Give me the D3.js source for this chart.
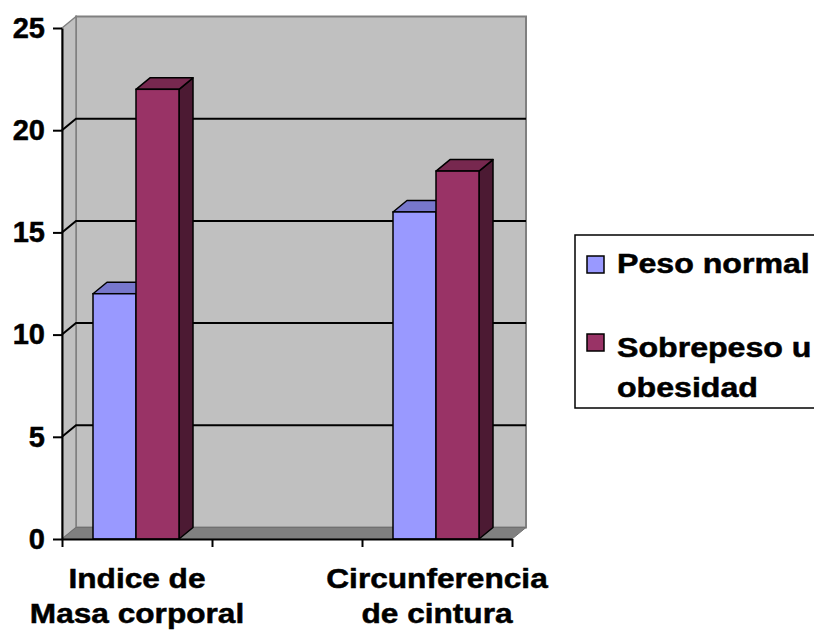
<!DOCTYPE html>
<html>
<head>
<meta charset="utf-8">
<script src="https://cdn.jsdelivr.net/npm/d3@7"></script>
<style>
  html, body { margin: 0; padding: 0; background: #ffffff; }
  svg { display: block; }
  text { font-family: "Liberation Sans", Arial, sans-serif; font-weight: bold; fill: #000; stroke: #000; stroke-width: 0.5px; }
</style>
</head>
<body>
<svg id="chart" width="814" height="634"></svg>
<script>
// Categories (the middle slot is an empty category in the original workbook)
const categories = ["Indice de Masa corporal", "", "Circunferencia de cintura"];
const categoryLines = [["Indice de", "Masa corporal"], [], ["Circunferencia", "de cintura"]];
const seriesNames = ["Peso normal", "Sobrepeso u obesidad"];
const pesoNormal = [12, null, 16];
const sobrepeso = [22, null, 18];
const yTicks = [0, 5, 10, 15, 20, 25];

const seriesColors = [
  { front: "#9999FF", top: "#7777CC", side: "#4D4D80" },
  { front: "#993366", top: "#77284F", side: "#4C1A33" }
];
const seriesValues = [pesoNormal, sobrepeso];

const svg = d3.select("#chart");

// 3D depth offset of the walls and columns
const DX = 14, DY = 11.5;

const y = d3.scaleLinear().domain([0, 25]).range([539, 28]);
const x = d3.scaleBand().domain(d3.range(categories.length)).range([62, 512]);
const xEdge = d3.scaleLinear().domain([0, categories.length]).range([62, 512]);
const xs = d3.scaleBand().domain(d3.range(seriesNames.length)).range([31, 117]);

const y0 = y(0), yTop = y(25);
const xL = x.range()[0], xR = x.range()[1];
const pts = arr => arr.map(p => p.join(",")).join(" ");

// Back wall
svg.append("rect")
  .attr("x", xL + DX).attr("y", yTop - DY)
  .attr("width", xR - xL).attr("height", y0 - yTop)
  .attr("fill", "#C0C0C0").attr("stroke", "#808080").attr("stroke-width", 2);

// Side wall
svg.append("polygon")
  .attr("points", pts([[xL, yTop], [xL + DX, yTop - DY], [xL + DX, y0 - DY], [xL, y0]]))
  .attr("fill", "#C0C0C0").attr("stroke", "#808080").attr("stroke-width", 1.5);

// Gridlines across side wall and back wall
svg.append("g").selectAll("polyline")
  .data(yTicks.filter(v => v > 0 && v < 25))
  .join("polyline")
  .attr("points", v => pts([[xL, y(v)], [xL + DX, y(v) - DY], [xR + DX, y(v) - DY]]))
  .attr("fill", "none").attr("stroke", "#000").attr("stroke-width", 2);

// Floor
svg.append("polygon")
  .attr("points", pts([[xL, y0], [xR, y0], [xR + DX, y0 - DY], [xL + DX, y0 - DY]]))
  .attr("fill", "#808080").attr("stroke", "#707070").attr("stroke-width", 1);

// Columns
const bars = [];
categories.forEach((c, i) => {
  seriesValues.forEach((vals, s) => {
    if (vals[i] == null) return;
    bars.push({ i, s, v: vals[i] });
  });
});

const barG = svg.append("g");
bars.forEach(b => {
  const bx = x(b.i) + xs(b.s), bw = xs.bandwidth(), by = y(b.v);
  const col = seriesColors[b.s];
  const g = barG.append("g");
  g.append("polygon")
    .attr("points", pts([[bx + bw, by], [bx + bw + DX, by - DY], [bx + bw + DX, y0 - DY], [bx + bw, y0]]))
    .attr("fill", col.side).attr("stroke", "#000").attr("stroke-width", 1.5).attr("stroke-linejoin", "round");
  g.append("polygon")
    .attr("points", pts([[bx, by], [bx + DX, by - DY], [bx + bw + DX, by - DY], [bx + bw, by]]))
    .attr("fill", col.top).attr("stroke", "#000").attr("stroke-width", 1.5).attr("stroke-linejoin", "round");
  g.append("rect")
    .attr("x", bx).attr("y", by).attr("width", bw).attr("height", y0 - by)
    .attr("fill", col.front).attr("stroke", "#000").attr("stroke-width", 1.5);
});

// Value axis
const yAxis = svg.append("g")
  .attr("transform", `translate(${xL},0)`)
  .call(d3.axisLeft(y).tickValues(yTicks).tickFormat(d3.format("d")).tickSize(9).tickSizeOuter(0).tickPadding(8));
yAxis.select(".domain").attr("stroke", "#000").attr("stroke-width", 2);
yAxis.selectAll(".tick line").attr("stroke", "#000").attr("stroke-width", 2);
yAxis.selectAll(".tick text").attr("font-size", 29).attr("font-family", "Liberation Sans, Arial, sans-serif").attr("font-weight", "bold").attr("fill", "#000");

// Category axis (ticks on the category boundaries)
const xAxis = svg.append("g")
  .attr("transform", `translate(0,${y0})`)
  .call(d3.axisBottom(xEdge).tickValues(d3.range(categories.length + 1)).tickFormat("").tickSize(8).tickSizeOuter(0));
xAxis.select(".domain").attr("stroke", "#000").attr("stroke-width", 2);
xAxis.selectAll(".tick line").attr("stroke", "#000").attr("stroke-width", 2);

// Category labels
const catG = svg.append("g");
categoryLines.forEach((lines, i) => {
  const cx = x(i) + x.bandwidth() / 2;
  lines.forEach((ln, k) => {
    catG.append("text")
      .attr("transform", `translate(${cx},${588 + k * 35}) scale(1.13,1)`)
      .attr("text-anchor", "middle")
      .attr("font-size", 28)
      .text(ln);
  });
});

// Legend
const legend = svg.append("g");
legend.append("rect")
  .attr("x", 575).attr("y", 235).attr("width", 260).attr("height", 173)
  .attr("fill", "#fff").attr("stroke", "#000").attr("stroke-width", 1.5);
const legendRows = [
  { swatchY: 256, lines: ["Peso normal"], baseY: 273 },
  { swatchY: 334, lines: ["Sobrepeso u", "obesidad"], baseY: 357 }
];
legendRows.forEach((r, s) => {
  legend.append("rect")
    .attr("x", 587).attr("y", r.swatchY).attr("width", 17).attr("height", 17)
    .attr("fill", seriesColors[s].front).attr("stroke", "#000").attr("stroke-width", 1.5);
  r.lines.forEach((ln, k) => {
    legend.append("text")
      .attr("transform", `translate(617,${r.baseY + k * 40}) scale(1.19,1)`)
      .attr("font-size", 27)
      .text(ln);
  });
});
</script>
</body>
</html>
